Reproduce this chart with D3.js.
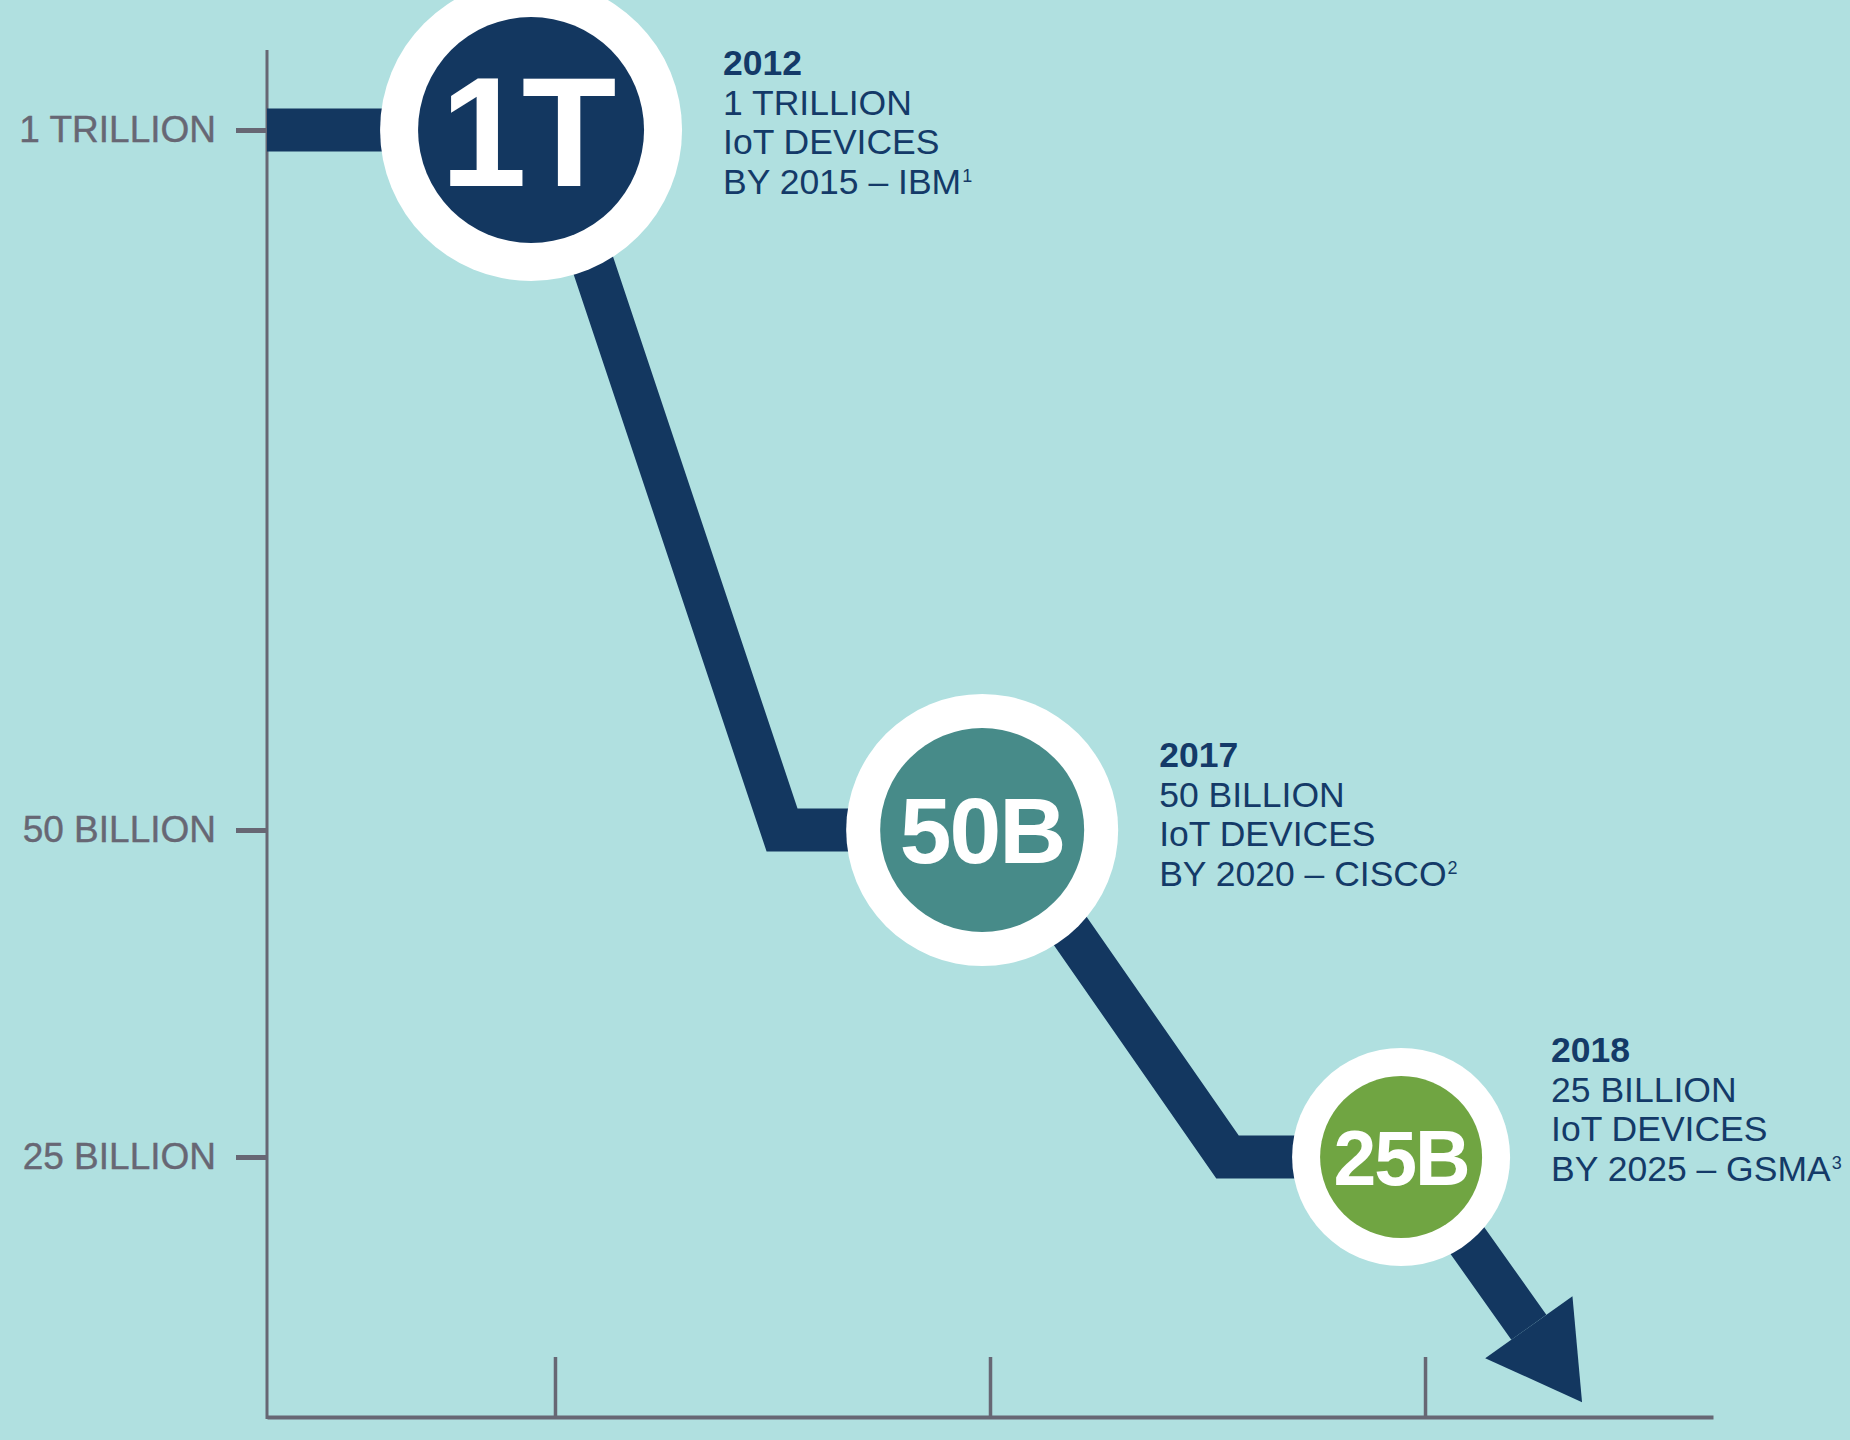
<!DOCTYPE html>
<html>
<head>
<meta charset="utf-8">
<script src="https://cdn.jsdelivr.net/npm/d3@7"></script>
<style>
  html, body { margin: 0; padding: 0; background: #b0e0e0; }
  svg { display: block; font-family: 'Liberation Sans', Arial, sans-serif; }
</style>
</head>
<body>
<svg width="1850" height="1440"></svg>
<script>
// forecast levels on the (uneven) y axis, in billions
var levels = [1000, 50, 25];
var levelLabels = ['1 TRILLION', '50 BILLION', '25 BILLION'];
var xTicks = [1, 2, 3];

// the three forecasts
var badgeText = ['1T', '50B', '25B'];
var badgeX = [0.945, 1.982, 2.945];
var badgeValue = [1000, 50, 25];
var noteYear = ['2012', '2017', '2018'];
var noteAmount = ['1 TRILLION', '50 BILLION', '25 BILLION'];
var noteSource = ['BY 2015 \u2013 IBM', 'BY 2020 \u2013 CISCO', 'BY 2025 \u2013 GSMA'];
var noteRef = ['1', '2', '3'];

// the falling trend line, last point is the arrow tip
var trendX = [0.338, 0.984, 1.522, 2.023, 2.546, 2.961, 3.361];
var trendY = [1000, 1000, 50, 50, 25, 25, 6.25];

// styles
var navy = '#133760';
var grey = '#676774';
var textNavy = '#143a68';
var badgeFill = [navy, '#478b89', '#70a542'];
var outerR = [151, 136, 109];
var innerR = [113, 102, 81];
var badgeFont = [155, 93, 77];
var badgeNudge = [-5, 0, 0];
var noteShift = [-55, -63, -95];

var svg = d3.select('svg');
var width = +svg.attr('width');
var height = +svg.attr('height');

svg.append('rect')
  .attr('width', width)
  .attr('height', height)
  .attr('fill', '#b0e0e0');

var x = d3.scaleLinear().domain([0.338, 3.662]).range([267, 1713]);
var y = d3.scaleLinear().domain(levels).range([130, 830, 1157]);
var axisTop = 50;
var axisBottom = 1417;

// y axis
svg.append('line')
  .attr('x1', x(0.338))
  .attr('x2', x(0.338))
  .attr('y1', axisTop)
  .attr('y2', axisBottom + 2)
  .attr('stroke', grey)
  .attr('stroke-width', 3);

var yAxis = svg.append('g')
  .attr('transform', 'translate(' + x(0.338) + ',0)')
  .call(d3.axisLeft(y)
    .tickValues(levels)
    .tickFormat(function(d, i) { return levelLabels[i]; })
    .tickSize(31)
    .tickPadding(20));
yAxis.select('.domain').remove();
yAxis.selectAll('.tick line').attr('stroke', grey).attr('stroke-width', 5);
yAxis.selectAll('.tick text')
  .attr('fill', grey)
  .attr('font-size', 37)
  .attr('stroke', grey)
  .attr('stroke-width', 0.4)
  .attr('font-family', "'Liberation Sans', Arial, sans-serif");

// x axis, unlabelled ticks pointing up
var xAxis = svg.append('g')
  .attr('transform', 'translate(0,' + axisBottom + ')')
  .call(d3.axisBottom(x)
    .tickValues(xTicks)
    .tickSizeInner(-60)
    .tickSizeOuter(0)
    .tickFormat(''));
xAxis.select('.domain').attr('stroke', grey).attr('stroke-width', 4);
xAxis.selectAll('.tick line').attr('stroke', grey).attr('stroke-width', 3.5);

// trend band
var pts = trendX.map(function(d, i) {
  return [x(d), y(trendY[i])];
});
var tip = pts[pts.length - 1];
var prev = pts[pts.length - 2];
var dx = tip[0] - prev[0];
var dy = tip[1] - prev[1];
var len = Math.sqrt(dx * dx + dy * dy);
var ux = dx / len;
var uy = dy / len;
var headLen = 92;
var headHalf = 53.5;
var shaftEnd = [tip[0] - ux * headLen, tip[1] - uy * headLen];

var line = d3.line();
svg.append('path')
  .attr('d', line(pts.slice(0, -1).concat([shaftEnd])))
  .attr('fill', 'none')
  .attr('stroke', navy)
  .attr('stroke-width', 43)
  .attr('stroke-linejoin', 'miter')
  .attr('stroke-miterlimit', 10);

svg.append('path')
  .attr('d', line([
    [shaftEnd[0] - uy * headHalf, shaftEnd[1] + ux * headHalf],
    tip,
    [shaftEnd[0] + uy * headHalf, shaftEnd[1] - ux * headHalf]
  ]) + 'Z')
  .attr('fill', navy);

// badges
var badge = svg.selectAll('g.badge')
  .data(badgeText)
  .enter()
  .append('g')
  .attr('class', 'badge')
  .attr('transform', function(d, i) {
    return 'translate(' + x(badgeX[i]) + ',' + y(badgeValue[i]) + ')';
  });

badge.append('circle')
  .attr('r', function(d, i) { return outerR[i]; })
  .attr('fill', '#ffffff');

badge.append('circle')
  .attr('r', function(d, i) { return innerR[i]; })
  .attr('fill', function(d, i) { return badgeFill[i]; });

badge.append('text')
  .attr('text-anchor', 'middle')
  .attr('x', function(d, i) { return badgeNudge[i]; })
  .attr('y', function(d, i) { return badgeFont[i] * 0.358; })
  .attr('font-size', function(d, i) { return badgeFont[i]; })
  .attr('font-weight', 'bold')
  .attr('letter-spacing', function(d, i) { return i === 0 ? -5 : -2; })
  .attr('fill', '#ffffff')
  .text(function(d) { return d; });

// notes next to each badge
var note = badge.append('text')
  .attr('x', function(d, i) { return outerR[i] + 41; })
  .attr('y', function(d, i) { return noteShift[i]; })
  .attr('font-size', 35.5)
  .attr('fill', textNavy);

note.append('tspan')
  .attr('font-weight', 'bold')
  .text(function(d, i) { return noteYear[i]; });
note.append('tspan')
  .attr('x', function(d, i) { return outerR[i] + 41; })
  .attr('dy', 39.7)
  .text(function(d, i) { return noteAmount[i]; });
note.append('tspan')
  .attr('x', function(d, i) { return outerR[i] + 41; })
  .attr('dy', 39.7)
  .text('IoT DEVICES');
note.append('tspan')
  .attr('x', function(d, i) { return outerR[i] + 41; })
  .attr('dy', 39.7)
  .text(function(d, i) { return noteSource[i]; });
note.append('tspan')
  .attr('dx', 1)
  .attr('dy', -12)
  .attr('font-size', 18)
  .text(function(d, i) { return noteRef[i]; });
</script>
</body>
</html>
